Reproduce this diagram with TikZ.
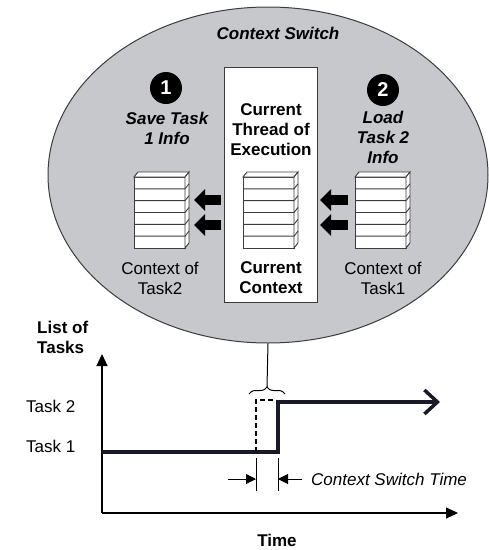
\documentclass[tikz,border=0pt]{standalone}
\usepackage{fontspec}
\setmainfont{Liberation Sans}
\usetikzlibrary{arrows.meta,decorations.pathreplacing,shapes.geometric}
\definecolor{ellfill}{RGB}{199,200,204}
\definecolor{edge}{RGB}{60,60,60}
\definecolor{plot}{RGB}{25,25,40}
\tikzset{
  txt/.style={font=\fontsize{17}{20}\selectfont, align=center, inner sep=0pt},
  btxt/.style={txt, font=\fontsize{17}{20}\selectfont\bfseries},
  bitxt/.style={txt, font=\fontsize{17}{20}\selectfont\bfseries\itshape},
  itxt/.style={txt, font=\fontsize{17}{20}\selectfont\itshape},
  numdot/.style={circle, fill=black, text=white, minimum size=32pt, inner sep=0pt,
    font=\fontsize{20}{20}\selectfont\bfseries},
  stackface/.style={draw=edge, fill=white, line width=0.9pt, minimum width=51pt,
    minimum height=71pt, inner sep=0pt, outer sep=0pt},
  blockarrow/.style={line width=10pt, -{Triangle[length=11pt,width=21pt]}},
  axis/.style={line width=1.2pt, -{Triangle[length=12pt,width=11pt]}},
  dimarrow/.style={line width=1pt, -{Triangle[length=10pt,width=10pt]}},
}
\newcommand{\ctxstack}[3]{%
  \node[stackface] (#1) at (#2+25.5,#3+35.5) {};
  \draw[draw=edge, fill=white, line width=0.9pt] (#1.north west) -- ++(4,-5) -- ++(51,0) -- (#1.north east) -- cycle;
  \draw[draw=edge, fill=white, line width=0.9pt] (#1.north east) -- ++(4,-5) -- ++(0,71) -- (#1.south east) -- cycle;
  \foreach \i in {1,...,5} {
    \draw[draw=edge, line width=0.9pt] (#1.north west) ++(0,\i*71/6) -- ++(51,0) -- ++(4,-5);
  }
}
\begin{document}
\begin{tikzpicture}[x=1pt, y=-1pt]
  \useasboundingbox (0,0) rectangle (489,550);
  % big ellipse
  \node[ellipse, draw=edge, fill=ellfill, line width=1pt, minimum width=440pt, minimum height=336pt, inner sep=0pt] (ell) at (268,175) {};
  \node[bitxt] (title) at (278,33) {Context Switch};
  % central box
  \node[draw=edge, fill=white, line width=1pt, minimum width=93pt, minimum height=235pt, inner sep=0pt] (box) at (270.5,184.5) {};
  \node[btxt] (thread) at (271,130) {Current\\Thread of\\Execution};
  \node[btxt] (curctx) at (271,278) {Current\\Context};
  % numbers
  \node[numdot] (n1) at (166,88) {1};
  \node[bitxt] (save) at (167,128) {Save Task\\1 Info};
  \node[numdot] (n2) at (383,90) {2};
  \node[bitxt] (load) at (383,137) {Load\\Task 2\\Info};
  % stacks
  \ctxstack{s2}{134}{177}
  \ctxstack{sc}{243}{177}
  \ctxstack{s1}{355}{177}
  \node[txt] (ctx2) at (160,278) {Context of\\Task2};
  \node[txt] (ctx1) at (383,278) {Context of\\Task1};
  % block arrows
  \coordinate (a1s) at (221,200); \coordinate (a1e) at (194,200);
  \coordinate (a2s) at (221,225); \coordinate (a2e) at (194,225);
  \coordinate (a3s) at (348,200); \coordinate (a3e) at (320,200);
  \coordinate (a4s) at (348,225); \coordinate (a4e) at (320,225);
  \draw[blockarrow] (a1s) -- (a1e);
  \draw[blockarrow] (a2s) -- (a2e);
  \draw[blockarrow] (a3s) -- (a3e);
  \draw[blockarrow] (a4s) -- (a4e);
  % chart
  \coordinate (orig) at (102,513);
  \coordinate (ytop) at (102,354);
  \coordinate (xend) at (458,513);
  \draw[axis] (orig) -- (ytop);
  \draw[axis] (orig) -- (xend);
  \node[btxt, anchor=west, align=left] (list) at (37,337) {List of\\Tasks};
  \node[txt, anchor=west] (t2) at (26,406) {Task 2};
  \node[txt, anchor=west] (t1) at (26,446) {Task 1};
  \node[btxt] (time) at (277,540) {Time};
  % task line
  \coordinate (p0) at (102,452);
  \coordinate (p1) at (278,452);
  \coordinate (p2) at (278,402);
  \coordinate (p3) at (440,402);
  \draw[plot, line width=4.5pt, -{Straight Barb[length=13pt,width=24pt,line width=3.5pt]}] (p0) -- (p1) -- (p2) -- (p3);
  % dashed ideal switch
  \coordinate (d0) at (256,452);
  \coordinate (d1) at (256,400);
  \coordinate (d2) at (276,400);
  \draw[line width=1.2pt, dash pattern=on 5pt off 3pt] (d0) -- (d1) -- (d2);
  % brace and connector
  \coordinate (bl) at (249,394);
  \coordinate (br) at (285,394);
  \coordinate (btip) at (267,387);
  \draw[line width=1pt, decorate, decoration={brace, amplitude=7pt}] (bl) -- (br);
  \draw[line width=1pt] (ell.south) -- (btip);
  % dimension
  \coordinate (k1a) at (256,458); \coordinate (k1b) at (256,491);
  \coordinate (k2a) at (278,458); \coordinate (k2b) at (278,491);
  \draw[line width=0.8pt] (k1a) -- (k1b);
  \draw[line width=0.8pt] (k2a) -- (k2b);
  \coordinate (da) at (228,479); \coordinate (db) at (302,479);
  \draw[dimarrow] (da) -- (k1a |- da);
  \draw[dimarrow] (db) -- (k2a |- db);
  \node[itxt, anchor=west] (cst) at (311,479) {Context Switch Time};
\end{tikzpicture}
\end{document}
